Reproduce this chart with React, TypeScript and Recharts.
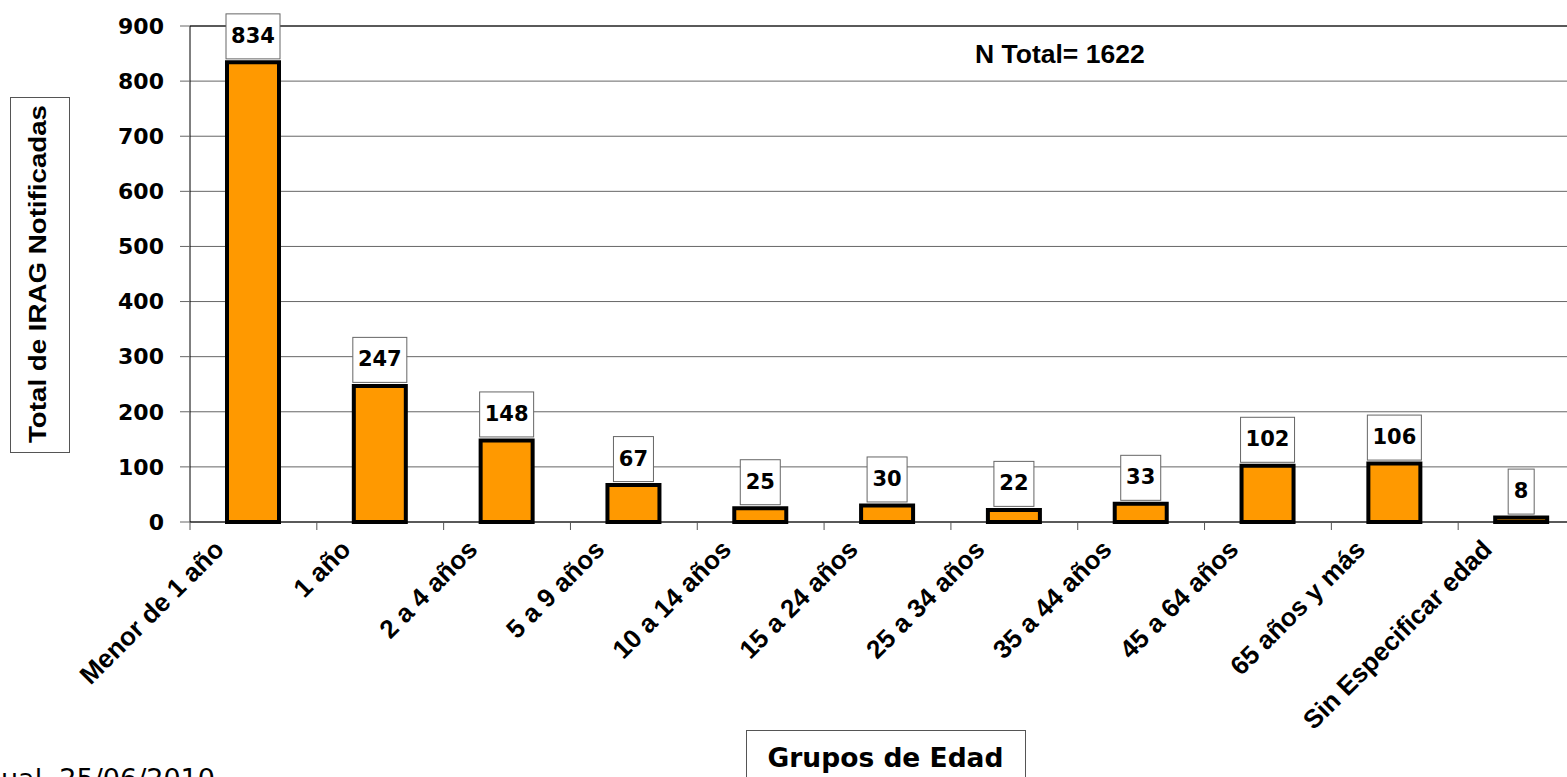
import { BarChart, Bar, XAxis, YAxis, CartesianGrid, LabelList, ReferenceLine } from "recharts";

// Grupos de edad y total de IRAG notificadas
const grupos = [
  "Menor de 1 año",
  "1 año",
  "2 a 4 años",
  "5 a 9 años",
  "10 a 14 años",
  "15 a 24 años",
  "25 a 34 años",
  "35 a 44 años",
  "45 a 64 años",
  "65 años y más",
  "Sin Especificar edad",
];
const casos = [834, 247, 148, 67, 25, 30, 22, 33, 102, 106, 8];
const yTicks = [0, 100, 200, 300, 400, 500, 600, 700, 800, 900];

const data = grupos.map((grupo, i) => ({ grupo, casos: casos[i] }));

const CHART_W = 1585;
const CHART_H = 777;
const LEFT = 190;
const BAND = (CHART_W - LEFT) / grupos.length;

const boldSans = "'DejaVu Sans', Verdana, sans-serif";
const arial = "'Liberation Sans', Arial, sans-serif";

function AgeTick({ x, y, payload }: any) {
  const px = x - 28;
  const py = y + 29;
  return (
    <g>
      <line x1={x - BAND / 2} x2={x - BAND / 2} y1={y} y2={y + 8} stroke="#555" />
      <text
        x={px}
        y={py}
        textAnchor="end"
        transform={`rotate(-45 ${px} ${py})`}
        fontFamily={arial}
        fontWeight="bold"
        fontSize={26}
        fill="#000"
      >
        {payload.value}
      </text>
    </g>
  );
}

function ValueBox({ x, y, width, value }: any) {
  const cx = x + width / 2;
  const w = String(value).length * 14 + 12;
  const bottom = y - 3.5;
  const top = bottom - 45;
  return (
    <g>
      <rect x={cx - w / 2} y={top} width={w} height={45} fill="#fff" stroke="#666" strokeWidth={1} />
      <text x={cx} y={top + 29} textAnchor="middle" fontFamily={boldSans} fontWeight="bold" fontSize={21} fill="#000">
        {value}
      </text>
    </g>
  );
}

export default function App() {
  return (
    <div style={{ position: "absolute", left: 0, top: 0, width: 1567, height: 777, overflow: "hidden", background: "#fff" }}>
      <BarChart width={CHART_W} height={CHART_H} data={data} margin={{ top: 26, right: 0, left: 0, bottom: 0 }}>
        <CartesianGrid vertical={false} stroke="#666" />
        <ReferenceLine y={900} stroke="#000" />
        <XAxis
          dataKey="grupo"
          height={255}
          interval={0}
          tickSize={0}
          tickMargin={0}
          tickLine={false}
          axisLine={{ stroke: "#000" }}
          tick={<AgeTick />}
        />
        <YAxis
          width={LEFT}
          domain={[0, 900]}
          ticks={yTicks}
          tickSize={10}
          tickMargin={16}
          tickLine={{ stroke: "#666" }}
          axisLine={{ stroke: "#000" }}
          tick={{ fontFamily: boldSans, fontWeight: "bold", fontSize: 22, fill: "#000" }}
        />
        <Bar dataKey="casos" fill="#FF9900" stroke="#000" strokeWidth={4} barSize={52} isAnimationActive={false}>
          <LabelList dataKey="casos" content={<ValueBox />} />
        </Bar>
      </BarChart>
      <svg width={1567} height={777} style={{ position: "absolute", left: 0, top: 0, pointerEvents: "none" }}>
        <text x={975} y={63} fontFamily={arial} fontWeight="bold" fontSize={26.5} fill="#000">
          N Total= 1622
        </text>
        <rect x={10.5} y={97.5} width={59} height={355} fill="#fff" stroke="#555" />
        <text
          x={46}
          y={274}
          textAnchor="middle"
          transform="rotate(-90 46 274)"
          fontFamily={arial}
          fontWeight="bold"
          fontSize={24}
          textLength={338}
          lengthAdjust="spacingAndGlyphs"
          fill="#000"
        >
          Total de IRAG Notificadas
        </text>
        <rect x={746.5} y={730.5} width={279} height={60} fill="#fff" stroke="#555" />
        <text x={885.5} y={767} textAnchor="middle" fontFamily={boldSans} fontWeight="bold" fontSize={26.5} fill="#000">
          Grupos de Edad
        </text>
        <text x={1} y={788} fontFamily="'DejaVu Sans', sans-serif" fontSize={27} fill="#000">
          ual. 25/06/2010
        </text>
      </svg>
    </div>
  );
}
